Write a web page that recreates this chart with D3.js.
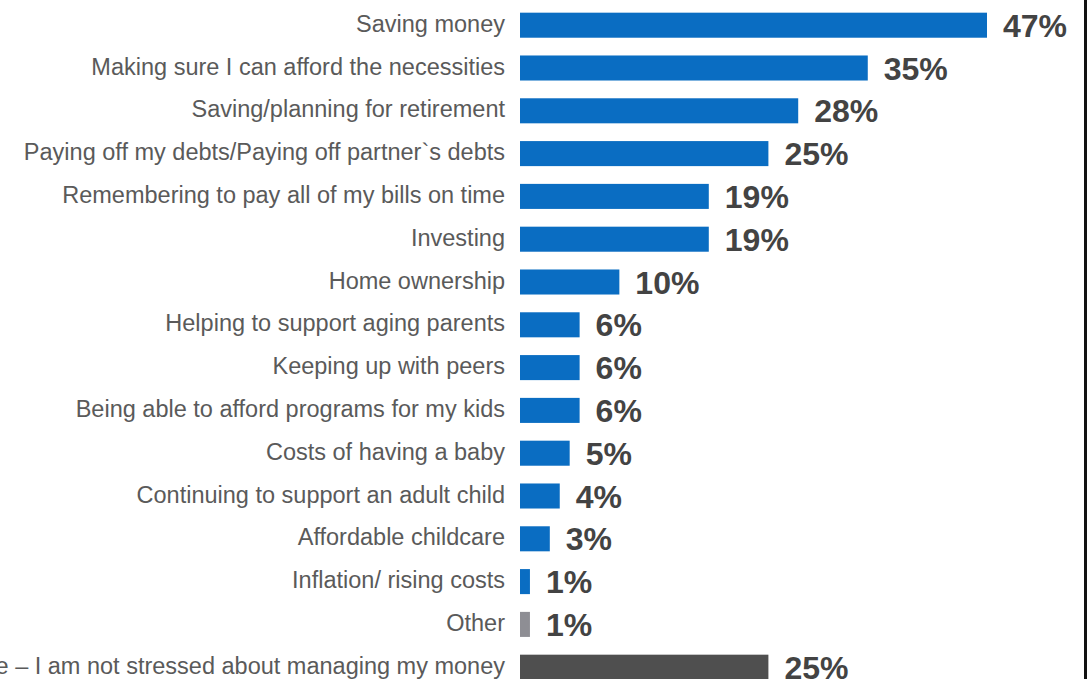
<!DOCTYPE html>
<html>
<head>
<meta charset="utf-8">
<script src="https://cdn.jsdelivr.net/npm/d3@7/dist/d3.min.js"></script>
<style>
  html, body { margin: 0; padding: 0; background: #fff; overflow: hidden; }
  svg { display: block; }
</style>
</head>
<body>
<svg id="chart" width="1090" height="679"></svg>
<script>
// Sources of money stress, share of respondents (%)
const categories = [
  "Saving money",
  "Making sure I can afford the necessities",
  "Saving/planning for retirement",
  "Paying off my debts/Paying off partner`s debts",
  "Remembering to pay all of my bills on time",
  "Investing",
  "Home ownership",
  "Helping to support aging parents",
  "Keeping up with peers",
  "Being able to afford programs for my kids",
  "Costs of having a baby",
  "Continuing to support an adult child",
  "Affordable childcare",
  "Inflation/ rising costs",
  "Other",
  "None – I am not stressed about managing my money"
];
const values = [47, 35, 28, 25, 19, 19, 10, 6, 6, 6, 5, 4, 3, 1, 1, 25];
// bar group: main answers, "Other", and the "None" answer
const groups = ["main", "main", "main", "main", "main", "main", "main", "main",
                "main", "main", "main", "main", "main", "main", "other", "none"];

const colors = { main: "#0a6dc2", other: "#8e8e94", none: "#4f4f4f" };

const svg = d3.select("#chart");
const data = categories.map((c, i) => ({ cat: c, value: values[i], group: groups[i] }));

const x0 = 520;
const x = d3.scaleLinear().domain([0, 47]).range([x0, x0 + 467]);

const step = 42.8;
const firstCenter = 25.2;
const y = d3.scaleBand()
  .domain(categories)
  .range([firstCenter - step / 2, firstCenter - step / 2 + categories.length * step])
  .paddingInner(0.415)
  .paddingOuter(0.2075);

const rows = svg.append("g").selectAll("g")
  .data(data)
  .join("g");

rows.append("rect")
  .attr("x", x(0))
  .attr("y", d => y(d.cat))
  .attr("width", d => x(d.value) - x(0))
  .attr("height", y.bandwidth())
  .attr("fill", d => colors[d.group]);

rows.append("text")
  .attr("x", x0 - 15)
  .attr("y", d => y(d.cat) + y.bandwidth() / 2 + 6.5)
  .attr("text-anchor", "end")
  .attr("font-family", "Liberation Sans, Arial, sans-serif")
  .attr("font-size", 23.5)
  .attr("fill", "#5a5a5a")
  .text(d => d.cat);

rows.append("text")
  .attr("x", d => x(d.value) + 16)
  .attr("y", d => y(d.cat) + y.bandwidth() / 2 + 11.5)
  .attr("font-family", "Liberation Sans, Arial, sans-serif")
  .attr("font-weight", "bold")
  .attr("font-size", 32)
  .attr("fill", "#434343")
  .text(d => d.value + "%");

// frame edge on the right
svg.append("rect")
  .attr("x", 1084)
  .attr("y", 0)
  .attr("width", 3)
  .attr("height", 679)
  .attr("fill", "#111");
</script>
</body>
</html>
